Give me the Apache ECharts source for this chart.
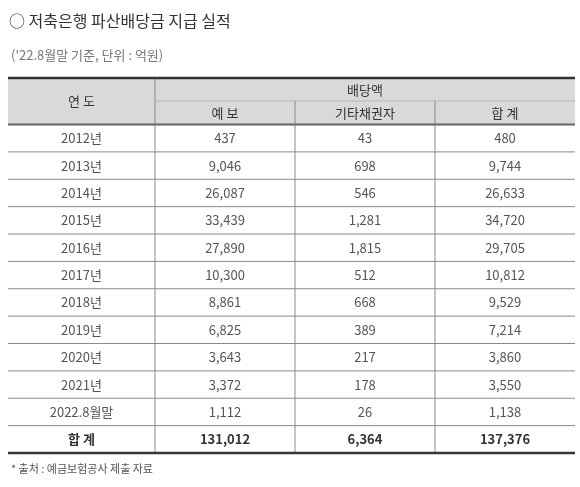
<!DOCTYPE html>
<html><head><meta charset="utf-8">
<script src="https://cdn.jsdelivr.net/npm/echarts@6/dist/echarts.min.js"></script>
<style>html,body{margin:0;padding:0;background:#fff}#c{width:580px;height:487px}</style>
</head><body><div id="c"></div>
<script>
const years = ['2012년','2013년','2014년','2015년','2016년','2017년','2018년','2019년','2020년','2021년','2022.8월말','합 계'];
const yebo = [437,9046,26087,33439,27890,10300,8861,6825,3643,3372,1112,131012];
const other = [43,698,546,1281,1815,512,668,389,217,178,26,6364];
const total = [480,9744,26633,34720,29705,10812,9529,7214,3860,3550,1138,137376];
const headerTop = '배당액';
const headerCols = ['연 도','예 보','기타채권자','합 계'];

const colEdges = [0, 1.05, 2.05, 3.05, 4.05];
const H1 = 0.85, H2 = 1.7;
const fmt = v => v.toLocaleString('en-US');

const items = [];
// header cells: [x0,x1,y0,y1,text,kind]
items.push([colEdges[0], colEdges[1], 0, H2, headerCols[0], 'h']);
items.push([colEdges[1], colEdges[4], 0, H1, headerTop, 'h']);
for (let c = 1; c < 4; c++) items.push([colEdges[c], colEdges[c+1], H1, H2, headerCols[c], 'h']);
years.forEach((y, i) => {
  const vals = [y, fmt(yebo[i]), fmt(other[i]), fmt(total[i])];
  const bold = i === years.length - 1;
  vals.forEach((t, c) => items.push([colEdges[c], colEdges[c+1], H2 + i, H2 + i + 1, t, bold ? 'b' : 'd']));
});
const yMax = H2 + years.length;

const chart = echarts.init(document.getElementById('c'));
chart.setOption({
  animation: false,
  title: [
    {text: '○ 저축은행 파산배당금 지급 실적', left: 4, top: 8, textStyle: {fontSize: 16, fontWeight: 'normal', color: '#333', fontFamily: 'Noto Sans CJK KR'}},
    {text: "('22.8월말 기준, 단위 : 억원)", left: 6, top: 44, textStyle: {fontSize: 13, fontWeight: 'normal', color: '#777', fontFamily: 'Noto Sans CJK KR'}},
    {text: '* 출처 : 예금보험공사 제출 자료', left: 6, top: 458, textStyle: {fontSize: 11, fontWeight: 'normal', color: '#555', fontFamily: 'Noto Sans CJK KR'}}
  ],
  grid: {left: 8, right: 5, top: 78, bottom: 34},
  xAxis: {type: 'value', min: 0, max: 4.05, show: false},
  yAxis: {type: 'value', min: 0, max: yMax, inverse: true, show: false},
  series: [{
    type: 'custom',
    clip: false,
    data: items,
    renderItem: (params, api) => {
      const d = items[params.dataIndex];
      const p0 = api.coord([d[0], d[2]]), p1 = api.coord([d[1], d[3]]);
      const kids = [];
      if (d[5] === 'h') kids.push({type: 'rect', shape: {x: p0[0], y: p0[1], width: p1[0]-p0[0], height: p1[1]-p0[1]}, style: {fill: '#d9d9d9'}});
      // bottom line
      kids.push({type: 'line', shape: {x1: p0[0], y1: p1[1], x2: p1[0], y2: p1[1]}, style: {stroke: '#8a8a8a', lineWidth: 1}});
      // left line (not on first column)
      if (d[0] > 0) kids.push({type: 'line', shape: {x1: p0[0], y1: p0[1], x2: p0[0], y2: p1[1]}, style: {stroke: '#8a8a8a', lineWidth: 1}});
      kids.push({type: 'text', style: {x: (p0[0]+p1[0])/2, y: (p0[1]+p1[1])/2, text: d[4], align: 'center', verticalAlign: 'middle',
        fill: d[5] === 'd' ? '#555' : '#333', font: (d[5] === 'b' ? 'bold ' : '') + '13px "Noto Sans CJK KR"'}});
      return {type: 'group', children: kids};
    }
  }, {
    type: 'custom', clip: false, data: [[0], [H2], [yMax]],
    renderItem: (params, api) => {
      const y = api.value(0);
      const a = api.coord([0, y]), b = api.coord([4.05, y]);
      return {type: 'line', shape: {x1: a[0], y1: a[1], x2: b[0], y2: b[1]}, style: {stroke: y === H2 ? '#666' : '#333', lineWidth: y === H2 ? 2 : 2.5}};
    }
  }]
});
</script></body></html>
